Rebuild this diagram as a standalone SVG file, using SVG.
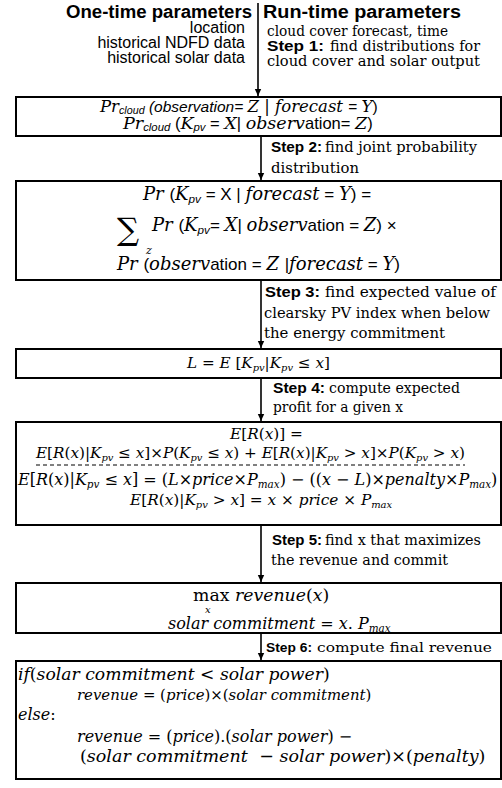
<svg xmlns="http://www.w3.org/2000/svg" width="502" height="788" viewBox="0 0 502 788">
<defs>
<marker id="ah" markerWidth="8" markerHeight="8" refX="7" refY="4" orient="auto" markerUnits="userSpaceOnUse">
<path d="M0,0.8 L7,4 L0,7.2 Z" fill="#000"/>
</marker>
<style>
.box{fill:#fff;stroke:#000;stroke-width:2}
.conn{stroke:#000;stroke-width:1.6;fill:none;marker-end:url(#ah)}
.hdr{font-family:"Liberation Sans",Arial,sans-serif;font-weight:bold;font-size:18px}
.lt{font-family:"Liberation Sans",Arial,sans-serif;font-size:16px}
.st{font-family:"DejaVu Serif","Liberation Serif",serif;font-size:14px}
.sb{font-family:"Liberation Sans",Arial,sans-serif;font-weight:bold;font-size:15px}
.m{font-family:"DejaVu Serif","Liberation Serif",serif;font-style:italic;font-size:16px}
.up{font-style:normal}
.ca{font-family:"Liberation Sans",Arial,sans-serif;font-style:italic}
.cn{font-family:"Liberation Sans",Arial,sans-serif;font-style:normal}
.sub{font-size:0.65em}
.dash{stroke:#000;stroke-width:1;stroke-dasharray:4,3}
</style>
</defs>

<g id="header">
<text class="hdr" x="252" y="18" text-anchor="end" textLength="186" lengthAdjust="spacingAndGlyphs">One-time parameters</text>
<text class="lt" x="245" y="33" text-anchor="end">location</text>
<text class="lt" x="245" y="48" text-anchor="end">historical NDFD data</text>
<text class="lt" x="245" y="63" text-anchor="end">historical solar data</text>
<text class="hdr" x="263" y="18" textLength="198" lengthAdjust="spacingAndGlyphs">Run-time parameters</text>
<text class="st" x="267" y="36" textLength="181" lengthAdjust="spacingAndGlyphs">cloud cover forecast, time</text>
<text class="sb" x="267" y="51" textLength="57" lengthAdjust="spacingAndGlyphs">Step 1:</text>
<text class="st" x="330" y="51" textLength="150" lengthAdjust="spacingAndGlyphs">find distributions for</text>
<text class="st" x="267" y="66" textLength="213" lengthAdjust="spacingAndGlyphs">cloud cover and solar output</text>
</g>

<g id="connectors">
<line class="conn" x1="258" y1="3" x2="258" y2="96"/>
<line class="conn" x1="261" y1="136" x2="261" y2="180"/>
<line class="conn" x1="261" y1="280" x2="261" y2="348"/>
<line class="conn" x1="261" y1="378" x2="261" y2="421"/>
<line class="conn" x1="261" y1="525" x2="261" y2="582"/>
<line class="conn" x1="261" y1="633" x2="261" y2="660"/>
</g>

<g id="step-labels">
<text class="sb" x="271" y="152" textLength="51" lengthAdjust="spacingAndGlyphs">Step 2:</text>
<text class="st" x="325" y="152" textLength="152" lengthAdjust="spacingAndGlyphs">find joint probability</text>
<text class="st" x="271" y="173" textLength="88" lengthAdjust="spacingAndGlyphs">distribution</text>
<text class="sb" x="265" y="297" textLength="55" lengthAdjust="spacingAndGlyphs">Step 3:</text>
<text class="st" x="325" y="297" textLength="171" lengthAdjust="spacingAndGlyphs">find expected value of</text>
<text class="st" x="264" y="318" textLength="226" lengthAdjust="spacingAndGlyphs">clearsky PV index when below</text>
<text class="st" x="264" y="338" textLength="181" lengthAdjust="spacingAndGlyphs">the energy commitment</text>
<text class="sb" x="273" y="393" textLength="52" lengthAdjust="spacingAndGlyphs">Step 4:</text>
<text class="st" x="329" y="393" textLength="131" lengthAdjust="spacingAndGlyphs">compute expected</text>
<text class="st" x="273" y="412" textLength="130" lengthAdjust="spacingAndGlyphs">profit for a given x</text>
<text class="sb" x="272" y="545" textLength="50" lengthAdjust="spacingAndGlyphs">Step 5:</text>
<text class="st" x="325" y="545" textLength="156" lengthAdjust="spacingAndGlyphs">find x that maximizes</text>
<text class="st" x="271" y="565" textLength="177" lengthAdjust="spacingAndGlyphs">the revenue and commit</text>
<text class="sb" x="266" y="652" style="font-size:13px" textLength="46" lengthAdjust="spacingAndGlyphs">Step 6:</text>
<text class="st" x="317" y="652" style="font-size:13px" textLength="175" lengthAdjust="spacingAndGlyphs">compute final revenue</text>
</g>

<g id="node1">
<rect class="box" x="16" y="97" width="485" height="39"/>
<text class="m" x="100" y="112" style="font-size:16.5px">Pr<tspan class="ca sub" dy="2">cloud</tspan><tspan class="ca" dy="-2" style="font-size:15.5px"> (observation= </tspan>Z | forecast <tspan class="cn" style="font-size:15.5px">= </tspan>Y<tspan class="cn" style="font-size:15.5px">)</tspan></text>
<text class="m" x="123" y="129" style="font-size:17.5px">Pr<tspan class="ca sub" dy="2">cloud</tspan><tspan class="cn" dy="-2" style="font-size:16.5px"> (</tspan>K<tspan class="ca sub" dy="2">pv</tspan><tspan class="cn" dy="-2" style="font-size:16.5px"> = </tspan>X<tspan class="cn" style="font-size:16.5px">| </tspan>observ<tspan class="cn" style="font-size:16.5px">ation= </tspan>Z<tspan class="cn" style="font-size:16.5px">)</tspan></text>
</g>

<g id="node2">
<rect class="box" x="16" y="181" width="485" height="99"/>
<text class="m" x="143" y="200" style="font-size:18px">Pr <tspan class="cn" style="font-size:17px">(</tspan>K<tspan class="ca sub" dy="3">pv</tspan><tspan class="cn" dy="-3" style="font-size:17px"> = X | </tspan>forecast<tspan class="cn" style="font-size:17px"> = </tspan>Y<tspan class="cn" style="font-size:17px">) =</tspan></text>
<text class="m up" x="117" y="240" style="font-size:31px">∑</text>
<text class="m" x="146" y="254" style="font-size:11px">z</text>
<text class="m" x="152" y="231" style="font-size:18px">Pr <tspan class="cn" style="font-size:17px">(</tspan>K<tspan class="ca sub" dy="3">pv</tspan><tspan class="cn" dy="-3" style="font-size:17px">= </tspan>X<tspan class="cn" style="font-size:17px">| </tspan>observ<tspan class="cn" style="font-size:17px">ation = </tspan>Z<tspan class="cn" style="font-size:17px">) ×</tspan></text>
<text class="m" x="117" y="270" style="font-size:18px">Pr <tspan class="cn" style="font-size:17px">(</tspan>observ<tspan class="cn" style="font-size:17px">ation = </tspan>Z <tspan class="cn" style="font-size:17px">|</tspan>forecast<tspan class="cn" style="font-size:17px"> = </tspan>Y<tspan class="cn" style="font-size:17px">)</tspan></text>
</g>

<g id="node3">
<rect class="box" x="16" y="349" width="485" height="29"/>
<text class="m" x="187" y="368" style="font-size:15.2px">L <tspan class="up">=</tspan> E <tspan class="up">[</tspan>K<tspan class="sub" dy="3">pv</tspan><tspan class="up" dy="-3">|</tspan>K<tspan class="sub" dy="3">pv</tspan><tspan class="up" dy="-3"> ≤  </tspan>x<tspan class="up">]</tspan></text>
</g>

<g id="node4">
<rect class="box" x="16" y="422" width="485" height="103"/>
<text class="m" x="230" y="439" style="font-size:15.3px">E<tspan class="up">[</tspan>R<tspan class="up">(</tspan>x<tspan class="up">)] =</tspan></text>
<text class="m" x="36" y="458" style="font-size:15.2px">E<tspan class="up">[</tspan>R<tspan class="up">(</tspan>x<tspan class="up">)|</tspan>K<tspan class="sub" dy="3">pv</tspan><tspan class="up" dy="-3"> ≤ </tspan>x<tspan class="up">]×</tspan>P<tspan class="up">(</tspan>K<tspan class="sub" dy="3">pv</tspan><tspan class="up" dy="-3"> ≤ </tspan>x<tspan class="up">) + </tspan>E<tspan class="up">[</tspan>R<tspan class="up">(</tspan>x<tspan class="up">)|</tspan>K<tspan class="sub" dy="3">pv</tspan><tspan class="up" dy="-3"> &gt; </tspan>x<tspan class="up">]×</tspan>P<tspan class="up">(</tspan>K<tspan class="sub" dy="3">pv</tspan><tspan class="up" dy="-3"> &gt; </tspan>x<tspan class="up">)</tspan></text>
<line class="dash" x1="36" y1="465" x2="465" y2="465"/>
<text class="m" x="18" y="485" style="font-size:16px">E<tspan class="up">[</tspan>R<tspan class="up">(</tspan>x<tspan class="up">)|</tspan>K<tspan class="sub" dy="3">pv</tspan><tspan class="up" dy="-3"> ≤ </tspan>x<tspan class="up">] = (</tspan>L<tspan class="up">×</tspan>price<tspan class="up">×</tspan>P<tspan class="sub" dy="3">max</tspan><tspan class="up" dy="-3">) − ((</tspan>x <tspan class="up">−</tspan> L<tspan class="up">)×</tspan>penalty<tspan class="up">×</tspan>P<tspan class="sub" dy="3">max</tspan><tspan class="up" dy="-3">)</tspan></text>
<text class="m" x="130" y="505" style="font-size:15.3px">E<tspan class="up">[</tspan>R<tspan class="up">(</tspan>x<tspan class="up">)|</tspan>K<tspan class="sub" dy="3">pv</tspan><tspan class="up" dy="-3"> &gt; </tspan>x<tspan class="up">] = </tspan>x <tspan class="up">×</tspan> price <tspan class="up">×</tspan> P<tspan class="sub" dy="3">max</tspan></text>
</g>

<g id="node5">
<rect class="box" x="16" y="583" width="485" height="50"/>
<text class="m" x="193" y="601" style="font-size:17.3px"><tspan class="up">max</tspan> revenue<tspan class="up">(</tspan>x<tspan class="up">)</tspan></text>
<text class="m" x="205" y="613" style="font-size:10px">x</text>
<text class="m" x="168" y="629" style="font-size:16px">solar commitment <tspan class="up">=</tspan> x<tspan class="up">.</tspan> P<tspan class="sub" dy="3">max</tspan></text>
</g>

<g id="node6">
<rect class="box" x="16" y="661" width="485" height="118"/>
<text class="m" x="18" y="680" style="font-size:17.2px">if<tspan class="up">(</tspan>solar commitment <tspan class="up">&lt;</tspan> solar power<tspan class="up">)</tspan></text>
<text class="m" x="77" y="700" style="font-size:14.9px">revenue <tspan class="up">=</tspan> <tspan class="up">(</tspan>price<tspan class="up">)×(</tspan>solar commitment<tspan class="up">)</tspan></text>
<text class="m" x="18" y="720" style="font-size:16px">else<tspan class="up">:</tspan></text>
<text class="m" x="77" y="742" style="font-size:16px">revenue <tspan class="up">=</tspan> <tspan class="up">(</tspan>price<tspan class="up">).(</tspan>solar power<tspan class="up">) −</tspan></text>
<text class="m" x="80" y="762" style="font-size:17.5px"><tspan class="up">(</tspan>solar commitment <tspan class="up" dx="6">−</tspan> solar power<tspan class="up">)×(</tspan>penalty<tspan class="up">)</tspan></text>
</g>
</svg>
